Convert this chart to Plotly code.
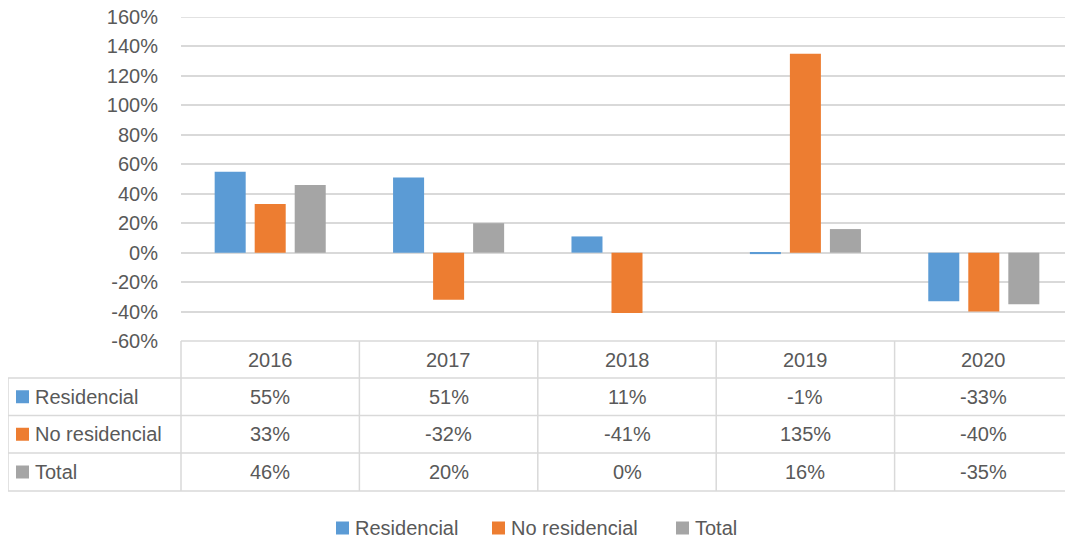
import plotly.graph_objects as go

years = ["2016", "2017", "2018", "2019", "2020"]
series_names = ["Residencial", "No residencial", "Total"]
residencial = [0.55, 0.51, 0.11, -0.01, -0.33]
no_residencial = [0.33, -0.32, -0.41, 1.35, -0.40]
total = [0.46, 0.20, 0.00, 0.16, -0.35]
colors = ["#5b9bd5", "#ed7d31", "#a5a5a5"]
y_ticks = [-0.6, -0.4, -0.2, 0, 0.2, 0.4, 0.6, 0.8, 1.0, 1.2, 1.4, 1.6]
y_ticktext = [f"{round(v * 100):d}%" for v in y_ticks]

W, H = 1073, 540
OFF = 8  # page body margin
# plot area in page pixels
P_L, P_R, P_T, P_B = 181, 1073, 17, 341
L = P_L - OFF
R = W - (P_R - OFF)
T = P_T - OFF
B = H - (P_B - OFF)
FONT = "Liberation Sans"
TXT = "#595959"
GRID = "#d9d9d9"
FS = 20

fig = go.Figure()
all_series = [residencial, no_residencial, total]
for name, vals, c in zip(series_names, all_series, colors):
    fig.add_trace(go.Bar(x=years, y=vals, name=name, marker_color=c,
                         marker_line_width=0, showlegend=False))

plot_h = P_B - P_T
plot_w = P_R - P_L

def py(pix):
    return (P_B - pix) / plot_h

def px(pix):
    return (pix - P_L) / plot_w

row_edges = [341, 378, 415.5, 453, 491]
left_edge = 8
shapes = []
line = dict(color=GRID, width=1.5)
shapes.append(dict(type="line", xref="paper", yref="paper", x0=0, x1=1,
                   y0=py(row_edges[0]), y1=py(row_edges[0]), line=line))
for r in row_edges[1:]:
    shapes.append(dict(type="line", xref="paper", yref="paper", x0=px(left_edge), x1=1,
                       y0=py(r), y1=py(r), line=line))
n = len(years)
for i in range(n):
    shapes.append(dict(type="line", xref="paper", yref="paper", x0=i / n, x1=i / n,
                       y0=py(row_edges[0]), y1=py(row_edges[-1]), line=line))
shapes.append(dict(type="line", xref="paper", yref="paper", x0=px(left_edge), x1=px(left_edge),
                   y0=py(row_edges[1]), y1=py(row_edges[-1]), line=line))
# top gridline (at the top of the value range)
shapes.append(dict(type="line", xref="paper", yref="y", x0=0, x1=1,
                   y0=y_ticks[-1], y1=y_ticks[-1], line=line, layer="below"))

annotations = []
font = dict(family=FONT, size=FS, color=TXT)
hdr_c = (row_edges[0] + row_edges[1]) / 2
for i, yr in enumerate(years):
    annotations.append(dict(xref="paper", yref="paper", x=(i + 0.5) / n, y=py(hdr_c),
                            text=yr, showarrow=False, font=font, xanchor="center", yanchor="middle"))
for r, (name, vals, c) in enumerate(zip(series_names, all_series, colors)):
    yc = (row_edges[r + 1] + row_edges[r + 2]) / 2
    for i, v in enumerate(vals):
        annotations.append(dict(xref="paper", yref="paper", x=(i + 0.5) / n, y=py(yc),
                                text=f"{round(v * 100):d}%", showarrow=False, font=font,
                                xanchor="center", yanchor="middle"))
    shapes.append(dict(type="rect", xref="paper", yref="paper", x0=px(16), x1=px(29),
                       y0=py(yc + 6.5), y1=py(yc - 6.5), fillcolor=c, line=dict(width=0)))
    annotations.append(dict(xref="paper", yref="paper", x=px(33), y=py(yc), text=name,
                            showarrow=False, font=font, xanchor="left", yanchor="middle"))

# bottom legend (page pixel positions of keys)
leg_keys = [336, 492, 676]
leg_y = 528
for k, name, c in zip(leg_keys, series_names, colors):
    shapes.append(dict(type="rect", xref="paper", yref="paper", x0=px(k), x1=px(k + 13),
                       y0=py(leg_y + 6.5), y1=py(leg_y - 6.5), fillcolor=c, line=dict(width=0)))
    annotations.append(dict(xref="paper", yref="paper", x=px(k + 17), y=py(leg_y), text=name,
                            showarrow=False, font=font, xanchor="left", yanchor="middle"))

fig.update_layout(
    width=W, height=H,
    margin=dict(l=L, r=R, t=T, b=B, autoexpand=False),
    paper_bgcolor="white", plot_bgcolor="white",
    barmode="group", bargap=0.327, bargroupgap=0.225,
    font=dict(family=FONT, size=FS, color=TXT),
    showlegend=False,
    xaxis=dict(showticklabels=False, showgrid=False, zeroline=False, showline=False,
               automargin=False),
    yaxis=dict(range=[-0.6, 1.6], tickvals=y_ticks, ticktext=y_ticktext,
               showgrid=True, gridcolor=GRID, gridwidth=1.5, zeroline=True,
               zerolinecolor=GRID, zerolinewidth=1.5, showline=False,
               ticklabeloverflow="allow", automargin=False,
               ticklabelstandoff=22, tickfont=dict(family=FONT, size=FS, color=TXT)),
    shapes=shapes, annotations=annotations,
)

fig.write_html("out.html")
